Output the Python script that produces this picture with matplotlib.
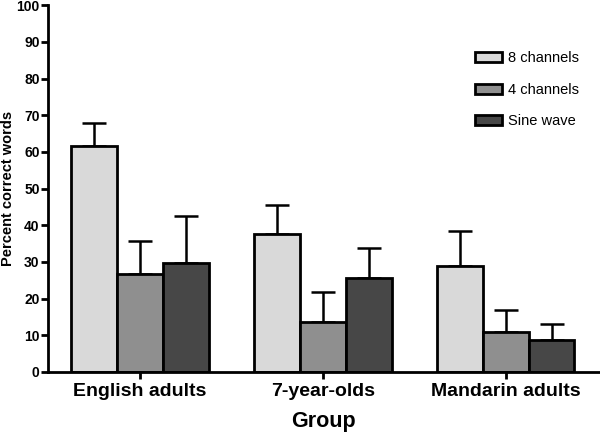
import numpy as np
import matplotlib.pyplot as plt

# data
groups = ['English adults', '7-year-olds', 'Mandarin adults']
series = ['8 channels', '4 channels', 'Sine wave']
ch8 = [61.7, 37.5, 28.8]
ch8_err = [6.3, 8.0, 9.5]
ch4 = [26.6, 13.7, 11.0]
ch4_err = [9.1, 8.2, 6.0]
sine = [29.8, 25.7, 8.7]
sine_err = [12.7, 8.0, 4.3]
colors = ['#d9d9d9', '#8f8f8f', '#474747']

plt.rcParams['font.family'] = ['Liberation Sans', 'DejaVu Sans']

fig = plt.figure(figsize=(6, 4.33), dpi=100)
ax = fig.add_axes([0.08, 0.141, 0.918, 0.847])

x = np.arange(len(groups))
w = 0.25
vals = [ch8, ch4, sine]
errs = [ch8_err, ch4_err, sine_err]
for i in range(3):
    ax.bar(x + (i - 1) * w, vals[i], w, color=colors[i], edgecolor='black',
           linewidth=2, label=series[i], zorder=2)
    ax.errorbar(x + (i - 1) * w, vals[i], yerr=[np.zeros(3), errs[i]], fmt='none',
                ecolor='black', elinewidth=1.8, capsize=8.5, capthick=1.8, zorder=1)

ax.set_xlim(-0.503, 2.508)
ax.set_ylim(0, 100)
ax.set_yticks(range(0, 101, 10))
ax.set_xticks(x)
ax.set_xticklabels(groups, fontsize=14, fontweight='bold')
for t in ax.get_yticklabels():
    t.set_fontweight('bold')
    t.set_fontsize(10)
ax.tick_params(axis='both', width=2, length=5, direction='out')
ax.tick_params(axis='x', pad=3)
ax.tick_params(axis='y', pad=1)
ax.spines['top'].set_visible(False)
ax.spines['right'].set_visible(False)
ax.spines['left'].set_linewidth(2)
ax.spines['bottom'].set_linewidth(2)
ax.set_xlabel('Group', fontsize=15.5, fontweight='bold', labelpad=8)
ax.set_ylabel('Percent correct words', fontsize=10.5, fontweight='bold', va='center')
ax.yaxis.set_label_coords(-0.072, 0.5)

ax.legend(loc='upper left', bbox_to_anchor=(0.752, 0.91), frameon=False, fontsize=10.5,
          handlelength=1.8, handleheight=0.7, handletextpad=0.45, labelspacing=1.2)

plt.savefig('out.png', dpi=100)
